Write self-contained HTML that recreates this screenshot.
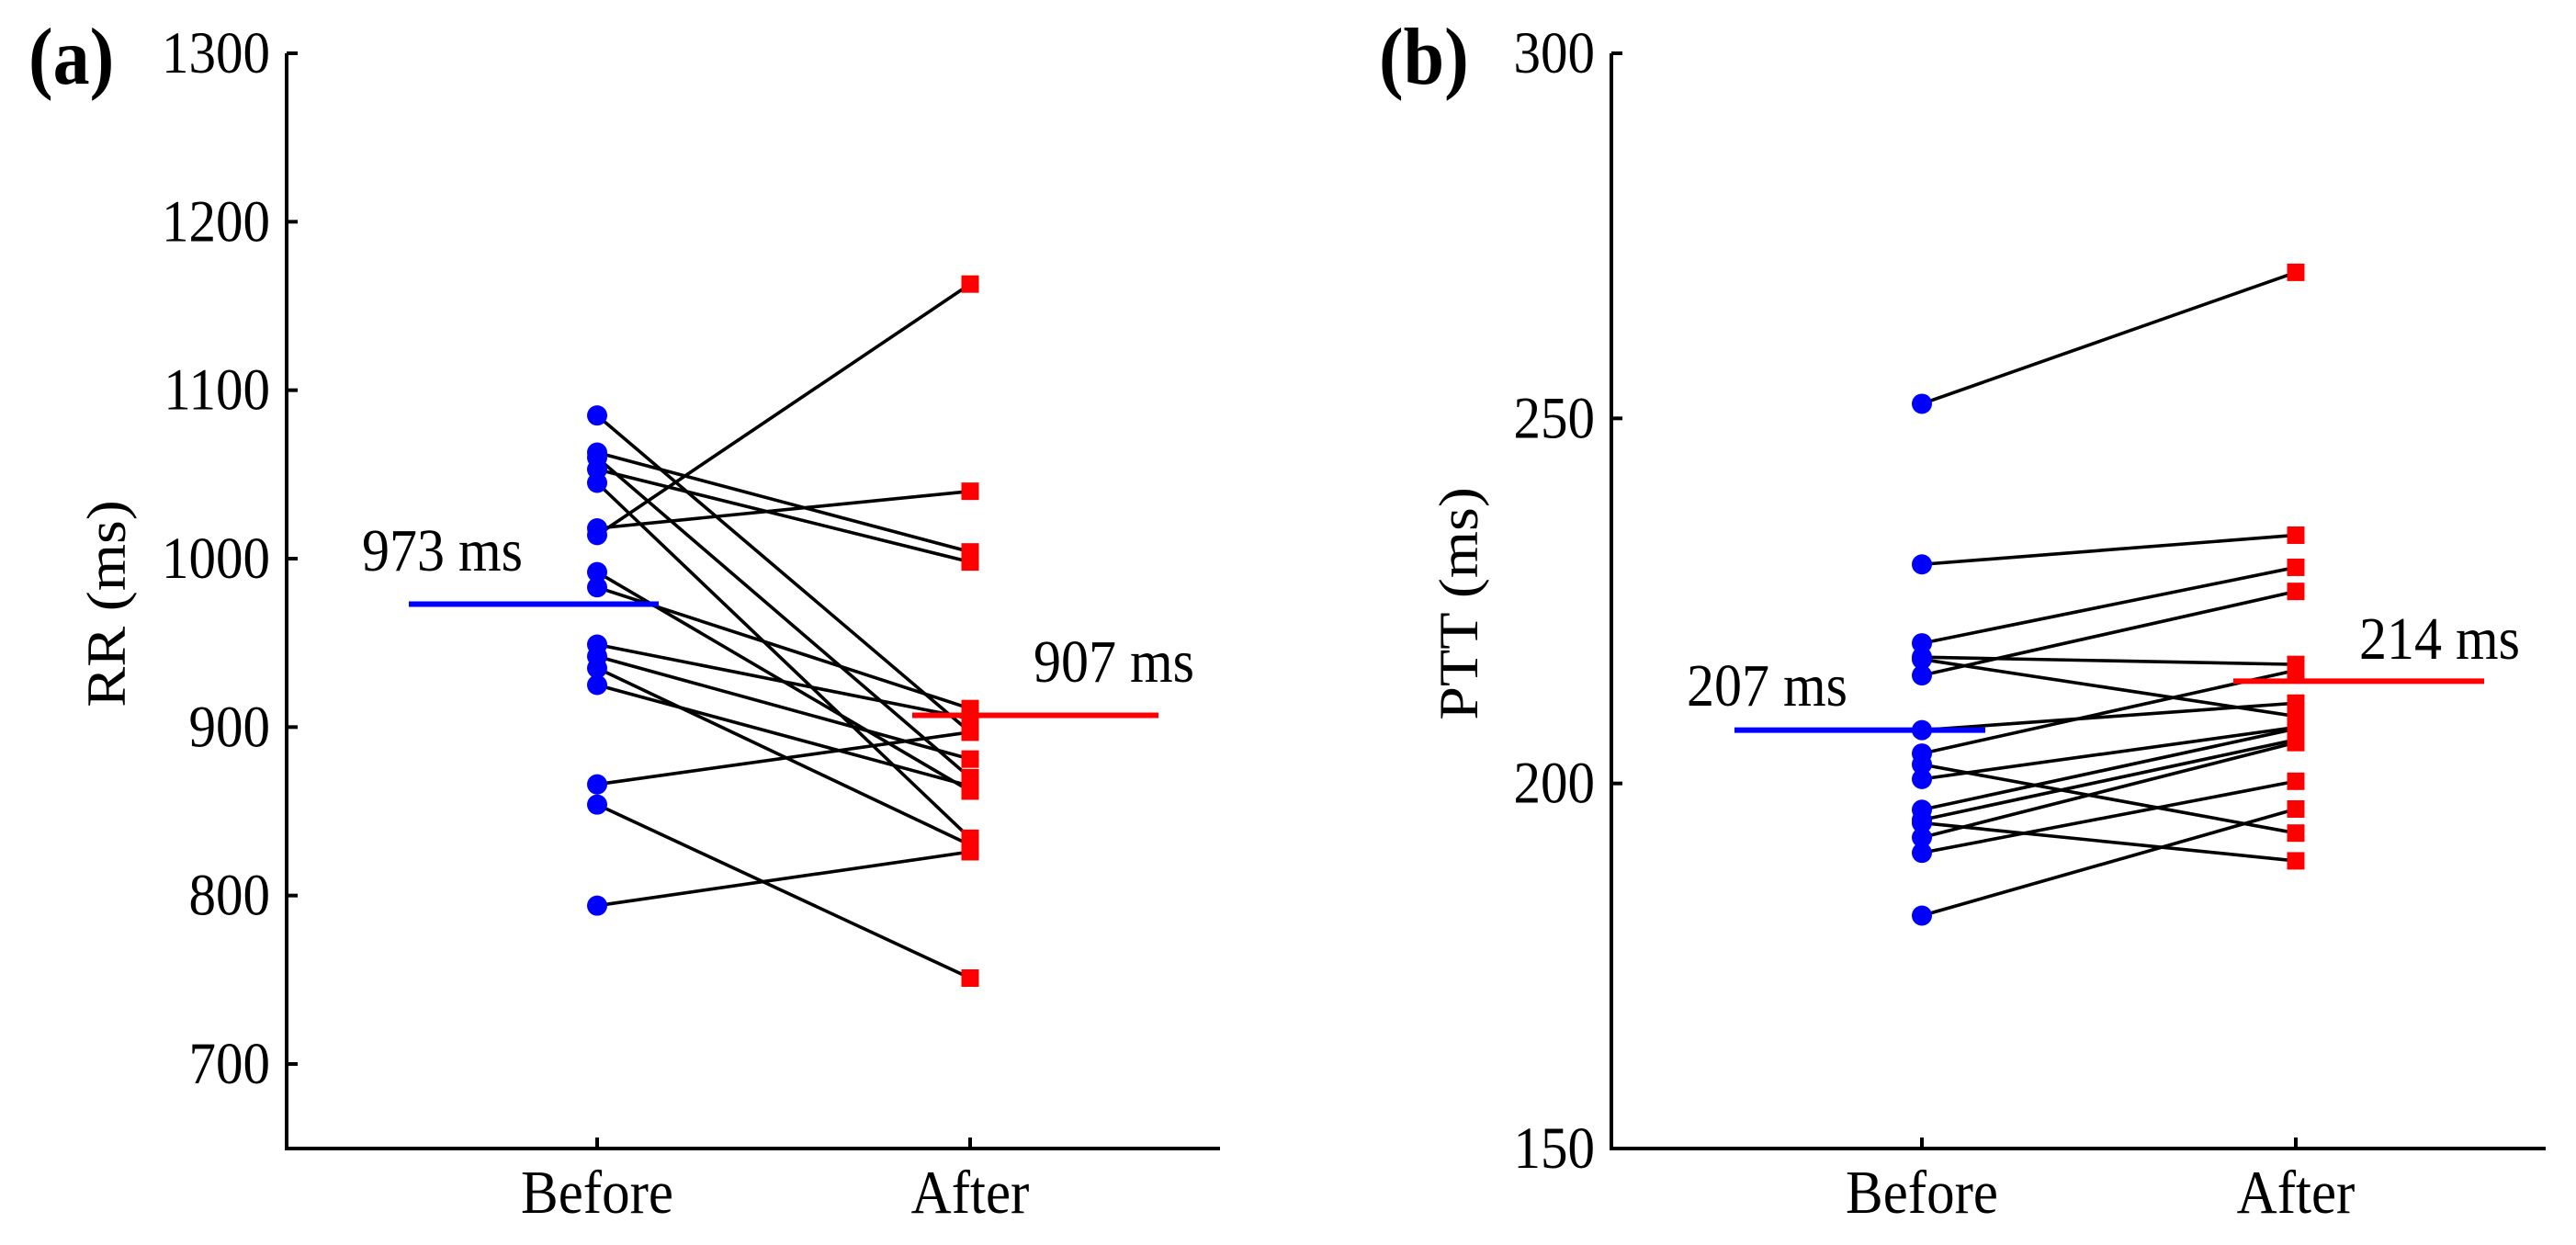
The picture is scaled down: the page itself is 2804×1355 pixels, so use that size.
<!DOCTYPE html>
<html><head><meta charset="utf-8"><style>
html,body{margin:0;padding:0;background:#fff;}
svg{display:block;font-family:"Liberation Serif",serif;}
</style></head><body>
<svg id="chart" width="2804" height="1355" viewBox="0 0 2804 1355" xmlns="http://www.w3.org/2000/svg">
<g id="pa"></g>
<g id="pb"></g>
</svg>
<script>
const groups = ["Before", "After"];
const rrBefore = [1085,1063,1060,1053,1045,1018,1014,992,983,949,942,935,925,866,854,794];
const rrAfter  = [897,1004,870,998,834,1040,1163,862,911,905,881,830,865,897,751,826];
const rrMeans = [973, 907];
const rrTicks = [700,800,900,1000,1100,1200,1300];
const pttBefore = [252,230,219.2,217.3,217,214.8,207.3,204.1,202.6,200.6,196.4,195,194.6,192.6,190.5,181.9];
const pttAfter  = [270,234,229.6,216.3,209.2,226.3,211,215.5,193.2,207.7,207.5,206,189.4,205.6,200.3,196.5];
const pttMeans = [207.3, 214];
const pttTicks = [150,200,250,300];

const NS = "http://www.w3.org/2000/svg";
const SY = 1.1;
function mk(parent, tag, attrs, text){
  const e = document.createElementNS(NS, tag);
  for (const k in attrs) e.setAttribute(k, attrs[k]);
  if (text !== undefined) e.textContent = text;
  parent.appendChild(e);
  return e;
}
function txt(parent, x, y, size, anchor, str, extra){
  const a = Object.assign({x:0, y:0, "font-size":size, "text-anchor":anchor, transform:`translate(${x} ${y}) scale(1 ${SY})`}, extra || {});
  return mk(parent, "text", a, str);
}

function panel(g, cfg){
  const {axX, axRight, yTop, yBot, vTop, vBot, bx, ax, before, after, means, ticks, ylabel, ylx, tag, tagx, meanBlue, meanRed, lbl1, lbl2} = cfg;
  const y = v => yTop + (vTop - v) / (vTop - vBot) * (yBot - yTop);
  const xs = [bx, ax];
  let e = mk(g, "line", {x1:axX, y1:yTop, x2:axX, y2:1250, stroke:"#000", "stroke-width":4});
  
  
  e = mk(g, "line", {x1:axX-2, y1:1250, x2:axRight, y2:1250, stroke:"#000", "stroke-width":4});
  
  
  ticks.forEach(t => {
    const yy = y(t);
    let l = mk(g, "line", {x1:axX, y1:yy, x2:axX+12, y2:yy, stroke:"#000", "stroke-width":4});
    
    
    let tx = txt(g, axX-18, yy+21, 59, "end", String(t));
    
    
  });
  groups.forEach((name, i) => {
    let l = mk(g, "line", {x1:xs[i], y1:1250, x2:xs[i], y2:1238, stroke:"#000", "stroke-width":4});
    
    
    let tx = txt(g, xs[i], 1320, 61, "middle", name);
    
    
  });
  let yl = mk(g, "text", {x:0, y:0, "font-size":60, "text-anchor":"middle", transform:`translate(${ylx+20} 657) rotate(-90) scale(${SY} 1)`}, ylabel);
  
  
  let tg = txt(g, tagx, 91, 80, "start", tag, {"font-weight":"bold"});
  
  
  before.forEach((b, i) => {
    let l = mk(g, "line", {x1:bx, y1:y(b), x2:ax, y2:y(after[i]), stroke:"#000", "stroke-width":3.6});
    
    
  });
  before.forEach(b => {
    let c = mk(g, "circle", {cx:bx, cy:y(b), r:11, fill:"#0000ff"});
    
    
  });
  after.forEach(a => {
    let r = mk(g, "rect", {x:ax-9.5, y:y(a)-9.5, width:19, height:19, fill:"#ff0000"});
    
    
  });
  let m1 = mk(g, "line", {x1:meanBlue[0], y1:y(means[0]), x2:meanBlue[1], y2:y(means[0]), stroke:"#0000ff", "stroke-width":6});
  
  
  let m2 = mk(g, "line", {x1:meanRed[0], y1:y(means[1]), x2:meanRed[1], y2:y(means[1]), stroke:"#ff0000", "stroke-width":6});
  
  
  let t1 = txt(g, lbl1[0], lbl1[1], 60, "start", Math.round(means[0]) + " ms");
  
  
  let t2 = txt(g, lbl2[0], lbl2[1], 60, "start", Math.round(means[1]) + " ms");
  
  
}

panel(document.getElementById("pa"), {
  axX:312, axRight:1328, yTop:58, yBot:1158, vTop:1300, vBot:700,
  bx:650, ax:1056, before:rrBefore, after:rrAfter, means:rrMeans, ticks:rrTicks,
  ylabel:"RR (ms)", ylx:116, tag:"(a)", tagx:31,
  meanBlue:[445,717], meanRed:[993,1261], lbl1:[394,621], lbl2:[1125,742]
});
panel(document.getElementById("pb"), {
  axX:1754, axRight:2771, yTop:58, yBot:1250, vTop:300, vBot:150,
  bx:2092, ax:2499, before:pttBefore, after:pttAfter, means:pttMeans, ticks:pttTicks,
  ylabel:"PTT (ms)", ylx:1588, tag:"(b)", tagx:1501,
  meanBlue:[1888,2161], meanRed:[2431,2704], lbl1:[1836,768], lbl2:[2568,717]
});
</script>
</body></html>
